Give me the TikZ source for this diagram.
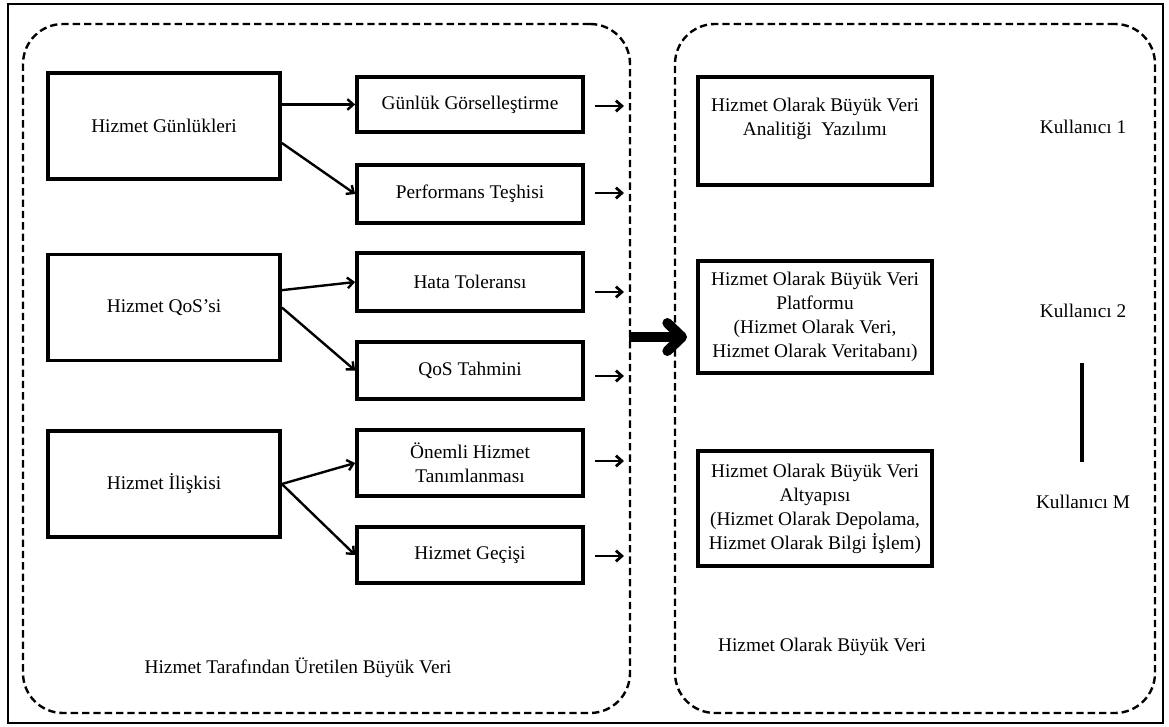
\documentclass[tikz,border=0pt]{standalone}
\usepackage{fontspec}
\setmainfont{Liberation Serif}
\usetikzlibrary{arrows.meta}
\begin{document}
\begin{tikzpicture}[x=0.75pt,y=-0.75pt,
  font=\fontsize{14.5}{18}\selectfont,
  frame/.style={draw, line width=1.8pt},
  group/.style={draw, dashed, dash pattern=on 5.5pt off 3pt, line width=1.8pt,
    rounded corners=30pt, inner sep=0pt},
  srcbox/.style={draw, line width=2.8pt, minimum width=174pt, minimum height=79.5pt,
    inner sep=0pt, align=center},
  subbox/.style={draw, line width=2.8pt, minimum width=169.5pt, inner sep=0pt, align=center},
  svcbox/.style={draw, line width=3.2pt, minimum width=175.5pt, inner sep=0pt, align=center},
  arr/.style={line width=1.8pt, -{Straight Barb[length=4.5pt,width=8pt,line join=miter]}},
  outarr/.style={line width=2.1pt, -{Straight Barb[length=4.5pt,width=8pt,line join=miter]}},
  bigarr/.style={line width=7.5pt, -{Straight Barb[length=11pt,width=21pt,line cap=round,line join=round]}},
  lbl/.style={inner sep=0pt}
]
\useasboundingbox (0,0) rectangle (1169,727);

% outer frame
\draw[frame] (8,4) rectangle (1163,723);

% the two groups
\node[group, minimum width=455.25pt, minimum height=516.75pt] (left) at (326.5,368.5) {};
\node[group, minimum width=360pt, minimum height=516.75pt] (right) at (915,368.5) {};

% source boxes
\node[srcbox] (g1) at (164,126) {Hizmet Günlükleri};
\node[srcbox] (q1) at (164,307.5) {Hizmet QoS’si};
\node[srcbox] (r1) at (164,484) {Hizmet İlişkisi};

% derived boxes
\node[subbox, minimum height=41.25pt] (c1) at (470,104.5) {Günlük Görselleştirme};
\node[subbox, minimum height=43.5pt] (c2) at (470,194) {Performans Teşhisi};
\node[subbox, minimum height=43.5pt] (c3) at (470,282) {Hata Toleransı};
\node[subbox, minimum height=42.75pt] (c4) at (470,370.5) {QoS Tahmini};
\node[subbox, minimum height=49.5pt] (c5) at (470,463) {Önemli Hizmet\\Tanımlanması};
\node[subbox, minimum height=42pt] (c6) at (470,555) {Hizmet Geçişi};

% connectors
\draw[arr] (g1.east |- c1.west) -- (c1.west);
\draw[arr] ([yshift=-12.75pt]g1.east) -- (c2.west);
\draw[arr] ([yshift=13pt]q1.east) -- (c3.west);
\draw[arr] (q1.east) -- (c4.west);
\draw[arr] (r1.east) -- (c5.west);
\draw[arr] (r1.east) -- (c6.west);

% outgoing arrows
\coordinate (o1a) at (595,106); \coordinate (o1b) at (624,106);
\coordinate (o2a) at (595,193); \coordinate (o2b) at (624,193);
\coordinate (o3a) at (595,292); \coordinate (o3b) at (624,292);
\coordinate (o4a) at (595,376); \coordinate (o4b) at (624,376);
\coordinate (o5a) at (595,461); \coordinate (o5b) at (624,461);
\coordinate (o6a) at (595,556); \coordinate (o6b) at (624,556);
\foreach \i in {1,...,6} \draw[outarr] (o\i a) -- (o\i b);

% big arrow between the groups
\coordinate (ba) at (629,337);
\coordinate (bb) at (687,337);
\draw[bigarr] (ba) -- (bb);

% service boxes
\node[svcbox, minimum height=81pt] (s1) at (815,131) {Hizmet Olarak Büyük Veri\\Analitiği\ \ Yazılımı\\[4pt]};
\node[svcbox, minimum height=84pt] (s2) at (815,317) {Hizmet Olarak Büyük Veri\\Platformu\\(Hizmet Olarak Veri,\\Hizmet Olarak Veritabanı)};
\node[svcbox, minimum height=86.25pt] (s3) at (815,508.5) {Hizmet Olarak Büyük Veri\\Altyapısı\\(Hizmet Olarak Depolama,\\Hizmet Olarak Bilgi İşlem)};

% users
\node[lbl] (u1) at (1083,127) {Kullanıcı 1};
\node[lbl] (u2) at (1083,311) {Kullanıcı 2};
\node[lbl] (um) at (1083,502) {Kullanıcı M};
\coordinate (v1) at (1082,363);
\coordinate (v2) at (1082,462);
\draw[line width=2.4pt] (v1) -- (v2);

% group captions
\node[lbl] (capL) at (298,668) {Hizmet Tarafından Üretilen Büyük Veri};
\node[lbl] (capR) at (822,647) {Hizmet Olarak Büyük Veri};
\end{tikzpicture}
\end{document}
